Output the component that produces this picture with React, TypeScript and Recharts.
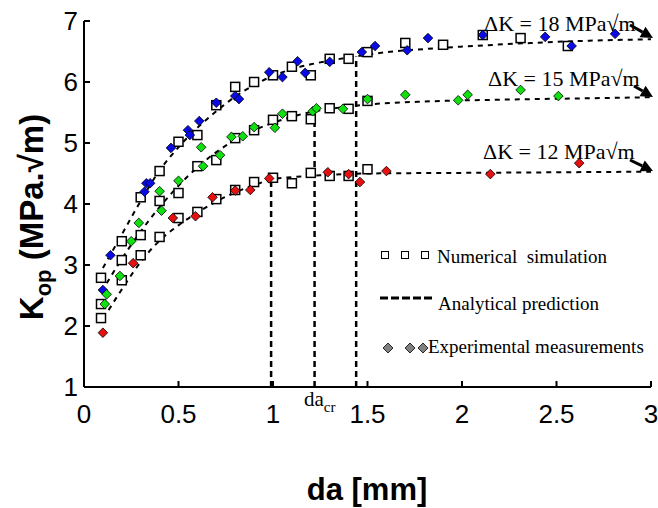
import React from 'react';
import { ComposedChart, Line, Scatter, XAxis, YAxis, ReferenceLine } from 'recharts';

const xTicks = [0, 0.5, 1, 1.5, 2, 2.5, 3];
const yTicks = [1, 2, 3, 4, 5, 6, 7];

// numerical simulation (open squares)
const simK18 = [
  { x: 0.09, y: 2.79 }, { x: 0.2, y: 3.39 }, { x: 0.3, y: 4.11 }, { x: 0.4, y: 4.54 },
  { x: 0.5, y: 5.02 }, { x: 0.6, y: 5.13 }, { x: 0.7, y: 5.62 }, { x: 0.8, y: 5.92 },
  { x: 0.9, y: 6.0 }, { x: 1.0, y: 6.11 }, { x: 1.1, y: 6.25 }, { x: 1.2, y: 6.11 },
  { x: 1.3, y: 6.38 }, { x: 1.4, y: 6.38 }, { x: 1.5, y: 6.49 }, { x: 1.7, y: 6.64 },
  { x: 1.9, y: 6.61 }, { x: 2.11, y: 6.77 }, { x: 2.31, y: 6.72 }, { x: 2.56, y: 6.59 },
];
const simK15 = [
  { x: 0.09, y: 2.36 }, { x: 0.2, y: 3.08 }, { x: 0.3, y: 3.49 }, { x: 0.4, y: 4.05 },
  { x: 0.5, y: 4.18 }, { x: 0.6, y: 4.62 }, { x: 0.7, y: 4.72 }, { x: 0.8, y: 5.08 },
  { x: 0.9, y: 5.21 }, { x: 1.0, y: 5.38 }, { x: 1.1, y: 5.44 }, { x: 1.2, y: 5.39 },
  { x: 1.3, y: 5.57 }, { x: 1.4, y: 5.56 }, { x: 1.5, y: 5.69 },
];
const simK12 = [
  { x: 0.09, y: 2.13 }, { x: 0.2, y: 2.75 }, { x: 0.3, y: 3.16 }, { x: 0.4, y: 3.46 },
  { x: 0.5, y: 3.77 }, { x: 0.6, y: 3.87 }, { x: 0.7, y: 4.08 }, { x: 0.8, y: 4.23 },
  { x: 0.9, y: 4.36 }, { x: 1.0, y: 4.43 }, { x: 1.1, y: 4.34 }, { x: 1.2, y: 4.51 },
  { x: 1.3, y: 4.46 }, { x: 1.4, y: 4.46 }, { x: 1.5, y: 4.57 },
];

// experimental measurements (diamonds)
const expK18 = [
  { x: 0.1, y: 2.59 }, { x: 0.14, y: 3.16 }, { x: 0.32, y: 4.2 }, { x: 0.33, y: 4.34 },
  { x: 0.35, y: 4.34 }, { x: 0.46, y: 4.92 }, { x: 0.55, y: 5.21 }, { x: 0.56, y: 5.13 },
  { x: 0.61, y: 5.36 }, { x: 0.7, y: 5.66 }, { x: 0.8, y: 5.77 }, { x: 0.82, y: 5.72 },
  { x: 0.98, y: 6.16 }, { x: 1.05, y: 6.08 }, { x: 1.13, y: 6.34 }, { x: 1.17, y: 6.15 },
  { x: 1.3, y: 6.33 }, { x: 1.47, y: 6.49 }, { x: 1.54, y: 6.59 }, { x: 1.71, y: 6.52 },
  { x: 1.82, y: 6.72 }, { x: 2.11, y: 6.77 }, { x: 2.44, y: 6.74 }, { x: 2.58, y: 6.59 },
  { x: 2.81, y: 6.79 },
];
const expK15 = [
  { x: 0.11, y: 2.36 }, { x: 0.12, y: 2.52 }, { x: 0.19, y: 2.82 }, { x: 0.25, y: 3.39 },
  { x: 0.29, y: 3.69 }, { x: 0.41, y: 3.89 }, { x: 0.4, y: 4.21 }, { x: 0.5, y: 4.38 },
  { x: 0.62, y: 4.93 }, { x: 0.63, y: 4.62 }, { x: 0.72, y: 4.8 }, { x: 0.78, y: 5.1 },
  { x: 0.84, y: 5.11 }, { x: 0.9, y: 5.26 }, { x: 1.01, y: 5.25 }, { x: 1.05, y: 5.48 },
  { x: 1.21, y: 5.52 }, { x: 1.23, y: 5.57 }, { x: 1.37, y: 5.56 }, { x: 1.5, y: 5.72 },
  { x: 1.7, y: 5.79 }, { x: 1.98, y: 5.7 }, { x: 2.03, y: 5.79 }, { x: 2.31, y: 5.87 },
  { x: 2.51, y: 5.77 },
];
const expK12 = [
  { x: 0.1, y: 1.89 }, { x: 0.26, y: 3.03 }, { x: 0.47, y: 3.77 }, { x: 0.59, y: 3.8 },
  { x: 0.68, y: 4.11 }, { x: 0.8, y: 4.22 }, { x: 0.88, y: 4.23 }, { x: 0.98, y: 4.42 },
  { x: 1.29, y: 4.52 }, { x: 1.4, y: 4.49 }, { x: 1.46, y: 4.36 }, { x: 1.6, y: 4.54 },
  { x: 2.15, y: 4.49 }, { x: 2.62, y: 4.67 },
];

// analytical prediction (dashed curves)
const fitK18 = [
  { x: 0.1, y: 2.95 }, { x: 0.2, y: 3.5 }, { x: 0.3, y: 4.05 }, { x: 0.4, y: 4.55 },
  { x: 0.5, y: 4.93 }, { x: 0.6, y: 5.25 }, { x: 0.7, y: 5.52 }, { x: 0.8, y: 5.76 },
  { x: 0.9, y: 5.95 }, { x: 1.0, y: 6.1 }, { x: 1.1, y: 6.21 }, { x: 1.2, y: 6.29 },
  { x: 1.3, y: 6.35 }, { x: 1.44, y: 6.42 }, { x: 1.6, y: 6.49 }, { x: 1.8, y: 6.54 },
  { x: 2.0, y: 6.58 }, { x: 2.3, y: 6.63 }, { x: 2.6, y: 6.67 }, { x: 3.0, y: 6.7 },
];
const fitK15 = [
  { x: 0.12, y: 2.7 }, { x: 0.2, y: 3.1 }, { x: 0.3, y: 3.55 }, { x: 0.4, y: 3.95 },
  { x: 0.5, y: 4.3 }, { x: 0.6, y: 4.6 }, { x: 0.7, y: 4.85 }, { x: 0.8, y: 5.05 },
  { x: 0.9, y: 5.21 }, { x: 1.0, y: 5.33 }, { x: 1.1, y: 5.43 }, { x: 1.22, y: 5.52 },
  { x: 1.35, y: 5.58 }, { x: 1.5, y: 5.63 }, { x: 1.8, y: 5.68 }, { x: 2.2, y: 5.71 },
  { x: 2.6, y: 5.73 }, { x: 3.0, y: 5.75 },
];
const fitK12 = [
  { x: 0.13, y: 2.26 }, { x: 0.2, y: 2.6 }, { x: 0.3, y: 3.05 }, { x: 0.4, y: 3.4 },
  { x: 0.5, y: 3.65 }, { x: 0.6, y: 3.86 }, { x: 0.7, y: 4.04 }, { x: 0.8, y: 4.19 },
  { x: 0.9, y: 4.31 }, { x: 0.99, y: 4.4 }, { x: 1.1, y: 4.44 }, { x: 1.25, y: 4.47 },
  { x: 1.5, y: 4.5 }, { x: 2.0, y: 4.51 }, { x: 2.5, y: 4.52 }, { x: 3.0, y: 4.53 },
];

// critical crack lengths (vertical dashed lines): x and the curve value they reach
const critX = [0.99, 1.22, 1.44];
const critTop = [4.4, 5.52, 6.42];

const Square = (props: any) => {
  const { cx, cy } = props;
  return <rect x={cx - 4.5} y={cy - 4.5} width={9} height={9} fill="#fff" stroke="#000" strokeWidth={1.5} />;
};

const diamond = (color: string) => (props: any) => {
  const { cx, cy } = props;
  const r = 4.8;
  return (
    <polygon
      points={`${cx},${cy - r} ${cx + r},${cy} ${cx},${cy + r} ${cx - r},${cy}`}
      fill={color}
      stroke="#000"
      strokeWidth={0.8}
    />
  );
};

const serif = '"Liberation Serif", "Times New Roman", serif';
const sans = '"Liberation Sans", Arial, sans-serif';

const Arrow = ({ x1, y1, x2, y2 }: { x1: number; y1: number; x2: number; y2: number }) => {
  const a = Math.atan2(y2 - y1, x2 - x1);
  const L = 12, W = 6;
  const bx = x2 - L * Math.cos(a), by = y2 - L * Math.sin(a);
  const px = -Math.sin(a) * W, py = Math.cos(a) * W;
  return (
    <g>
      <line x1={x1} y1={y1} x2={bx} y2={by} stroke="#000" strokeWidth={3} />
      <polygon points={`${x2},${y2} ${bx + px},${by + py} ${bx - px},${by - py}`} fill="#000" />
    </g>
  );
};

const Overlay = () => (
  <svg width={658} height={508} style={{ position: 'absolute', left: 0, top: 0, pointerEvents: 'none' }}>
    <text
      x={43}
      y={217}
      transform="rotate(-90 43 217)"
      textAnchor="middle"
      fontFamily={sans}
      fontWeight="bold"
      fontSize={33}
    >
      <tspan>K</tspan>
      <tspan fontSize={22} dy={8}>op</tspan>
      <tspan dy={-8}> (MPa.√m)</tspan>
    </text>
    <text x={367} y={500} textAnchor="middle" fontFamily={sans} fontWeight="bold" fontSize={31}>
      da [mm]
    </text>
    <text x={304} y={406} fontFamily={serif} fontSize={21}>
      da<tspan fontSize={15} dy={6}>cr</tspan>
    </text>

    <text x={484} y={31} fontFamily={serif} fontSize={22}>ΔK = 18 MPa√m</text>
    <text x={488} y={86} fontFamily={serif} fontSize={22}>ΔK = 15 MPa√m</text>
    <text x={483} y={159} fontFamily={serif} fontSize={22}>ΔK = 12 MPa√m</text>
    <Arrow x1={630} y1={25} x2={653} y2={38} />
    <Arrow x1={634} y1={86} x2={653} y2={97} />
    <Arrow x1={630} y1={160} x2={653} y2={171} />

    {[385, 405, 425].map((cx) => (
      <rect key={cx} x={cx - 3.5} y={251.5} width={7} height={7} fill="#fff" stroke="#000" strokeWidth={1} />
    ))}
    <text x={437} y={263} fontFamily={serif} fontSize={19}>{'Numerical\u00A0 simulation'}</text>
    <line x1={380} y1={298} x2={435} y2={298} stroke="#000" strokeWidth={3} strokeDasharray="8 3" />
    <text x={438} y={310} fontFamily={serif} fontSize={19}>Analytical prediction</text>
    {[388, 410, 423].map((cx) => (
      <polygon
        key={cx}
        points={`${cx},343 ${cx + 5},348 ${cx},353 ${cx - 5},348`}
        fill="#808080"
        stroke="#000"
        strokeWidth={0.8}
      />
    ))}
    <text x={428} y={353} fontFamily={serif} fontSize={19}>Experimental measurements</text>
  </svg>
);

export default function App() {
  return (
    <div style={{ position: 'absolute', left: 0, top: 0, width: 658, height: 508, background: '#fff' }}>
      <ComposedChart width={658} height={508} margin={{ top: 21, right: 7, bottom: 71, left: 30 }}>
        <XAxis
          dataKey="x"
          type="number"
          domain={[0, 3]}
          ticks={xTicks}
          height={50}
          tickSize={-6}
          tickMargin={24}
          stroke="#000"
          strokeWidth={2}
          tick={{ fill: '#000', fontSize: 26, fontFamily: sans }}
          allowDuplicatedCategory={false}
        />
        <YAxis
          dataKey="y"
          type="number"
          domain={[1, 7]}
          ticks={yTicks}
          width={54}
          tickSize={-6}
          tickMargin={12}
          stroke="#000"
          strokeWidth={2}
          tick={{ fill: '#000', fontSize: 26, fontFamily: sans }}
        />
        {critX.map((x, i) => (
          <ReferenceLine
            key={x}
            segment={[{ x, y: 1 }, { x, y: critTop[i] }]}
            stroke="#000"
            strokeWidth={2.5}
            strokeDasharray="6 4"
          />
        ))}
        {[fitK18, fitK15, fitK12].map((d, i) => (
          <Line
            key={i}
            data={d}
            dataKey="y"
            type="monotone"
            stroke="#000"
            strokeWidth={2}
            strokeDasharray="5 5"
            dot={false}
            isAnimationActive={false}
          />
        ))}
        <Scatter data={simK18} dataKey="y" shape={Square} isAnimationActive={false} />
        <Scatter data={simK15} dataKey="y" shape={Square} isAnimationActive={false} />
        <Scatter data={simK12} dataKey="y" shape={Square} isAnimationActive={false} />
        <Scatter data={expK18} dataKey="y" shape={diamond('#0a0ae6')} isAnimationActive={false} />
        <Scatter data={expK15} dataKey="y" shape={diamond('#10e010')} isAnimationActive={false} />
        <Scatter data={expK12} dataKey="y" shape={diamond('#e61010')} isAnimationActive={false} />
      </ComposedChart>
      <Overlay />
    </div>
  );
}
